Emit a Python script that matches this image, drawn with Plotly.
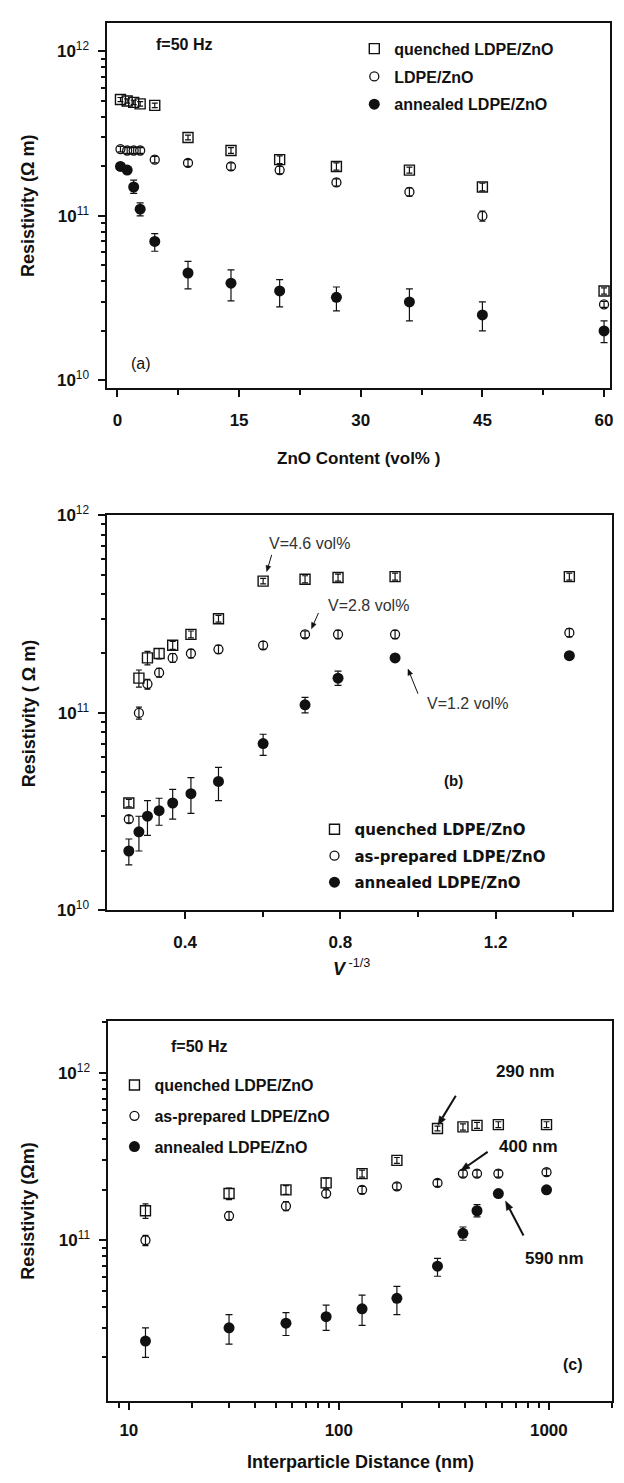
import math
import plotly.graph_objects as go

W, H = 624, 1483

# ---------------- data ----------------
# (a) resistivity versus ZnO content (vol%)
content_a = [0.37, 1.2, 2.0, 2.8, 4.6, 8.7, 14, 20, 27, 36, 45, 60]
quenched_a = [5.1e11, 5.0e11, 4.9e11, 4.8e11, 4.7e11, 3.0e11, 2.5e11, 2.2e11, 2.0e11, 1.9e11, 1.5e11, 3.5e10]
quenched_a_err = [0.15e11, 0.15e11, 0.15e11, 0.15e11, 0.15e11, 0.1e11, 0.1e11, 0.12e11, 0.1e11, 0.08e11, 0.08e11, 0.15e10]
prepared_a = [2.55e11, 2.5e11, 2.5e11, 2.5e11, 2.2e11, 2.1e11, 2.0e11, 1.9e11, 1.6e11, 1.4e11, 1.0e11, 2.9e10]
prepared_a_err = [0.1e11, 0.1e11, 0.1e11, 0.1e11, 0.1e11, 0.1e11, 0.1e11, 0.1e11, 0.08e11, 0.08e11, 0.07e11, 0.12e10]
annealed_a = [2.0e11, 1.9e11, 1.5e11, 1.1e11, 7.0e10, 4.5e10, 3.9e10, 3.5e10, 3.2e10, 3.0e10, 2.5e10, 2.0e10]
annealed_a_up = [0.05e11, 0.05e11, 0.15e11, 0.1e11, 0.8e10, 0.8e10, 0.8e10, 0.6e10, 0.5e10, 0.6e10, 0.5e10, 0.3e10]
annealed_a_dn = [0.05e11, 0.05e11, 0.13e11, 0.1e11, 0.9e10, 0.9e10, 0.85e10, 0.7e10, 0.55e10, 0.7e10, 0.5e10, 0.3e10]

# (b) resistivity versus V^-1/3
vinv_b = [0.255, 0.281, 0.303, 0.333, 0.368, 0.415, 0.486, 0.601, 0.709, 0.794, 0.941, 1.39]
quenched_b = [3.5e10, 1.5e11, 1.9e11, 2.0e11, 2.2e11, 2.5e11, 3.0e11, 4.65e11, 4.75e11, 4.85e11, 4.9e11, 4.9e11]
quenched_b_err = [0.15e10, 0.15e11, 0.15e11, 0.12e11, 0.1e11, 0.1e11, 0.12e11, 0.15e11, 0.2e11, 0.2e11, 0.2e11, 0.2e11]
prepared_b = [2.9e10, 1.0e11, 1.4e11, 1.6e11, 1.9e11, 2.0e11, 2.1e11, 2.2e11, 2.5e11, 2.5e11, 2.5e11, 2.55e11]
prepared_b_err = [0.12e10, 0.07e11, 0.08e11, 0.08e11, 0.1e11, 0.1e11, 0.1e11, 0.1e11, 0.1e11, 0.12e11, 0.12e11, 0.12e11]
annealed_b = [2.0e10, 2.5e10, 3.0e10, 3.2e10, 3.5e10, 3.9e10, 4.5e10, 7.0e10, 1.1e11, 1.5e11, 1.9e11, 1.95e11]
annealed_b_up = [0.3e10, 0.5e10, 0.6e10, 0.5e10, 0.6e10, 0.8e10, 0.8e10, 0.8e10, 1.0e10, 1.3e10, 0.3e10, 0.3e10]
annealed_b_dn = [0.3e10, 0.5e10, 0.6e10, 0.5e10, 0.6e10, 0.8e10, 0.9e10, 0.9e10, 1.0e10, 1.2e10, 0.3e10, 0.3e10]

# (c) resistivity versus interparticle distance (nm)
dist_c = [12, 30, 56, 87, 129, 189, 295, 390, 455, 575, 975]
quenched_c = [1.5e11, 1.9e11, 2.0e11, 2.2e11, 2.5e11, 3.0e11, 4.65e11, 4.75e11, 4.85e11, 4.9e11, 4.9e11]
quenched_c_err = [0.15e11, 0.15e11, 0.12e11, 0.15e11, 0.12e11, 0.12e11, 0.15e11, 0.2e11, 0.2e11, 0.2e11, 0.2e11]
prepared_c = [1.0e11, 1.4e11, 1.6e11, 1.9e11, 2.0e11, 2.1e11, 2.2e11, 2.5e11, 2.5e11, 2.5e11, 2.55e11]
prepared_c_err = [0.07e11, 0.08e11, 0.1e11, 0.1e11, 0.1e11, 0.1e11, 0.1e11, 0.12e11, 0.12e11, 0.12e11, 0.12e11]
annealed_c = [2.5e10, 3.0e10, 3.2e10, 3.5e10, 3.9e10, 4.5e10, 7.0e10, 1.1e11, 1.5e11, 1.9e11, 2.0e11]
annealed_c_up = [0.5e10, 0.6e10, 0.5e10, 0.6e10, 0.8e10, 0.8e10, 0.8e10, 1.0e10, 1.3e10, 0.3e10, 0.3e10]
annealed_c_dn = [0.5e10, 0.6e10, 0.5e10, 0.6e10, 0.8e10, 0.9e10, 0.9e10, 1.0e10, 1.2e10, 0.3e10, 0.3e10]

# tick labels
decade_vals = [1e10, 1e11, 1e12]
decade_text = ["<b>10</b><sup>10</sup>", "<b>10</b><sup>11</sup>", "<b>10</b><sup>12</sup>"]

# ---------------- helpers ----------------
INK = "#111111"
FONT = "Liberation Sans, Arial, sans-serif"
NARROW = "Liberation Sans Narrow, Arial Narrow, Liberation Sans, sans-serif"


def fx(p):
    return p / W


def fy(p):
    return 1 - p / H


def err(up, dn=None, width=3):
    d = dict(type="data", array=up, color=INK, thickness=1.2, width=width, visible=True)
    if dn is not None:
        d.update(symmetric=False, arrayminus=dn)
    return d


def series(x, y, e, kind, name, xa, ya, legend, dn=None):
    if kind == "q":
        marker = dict(symbol="square-open", size=10, color=INK, line=dict(width=1.4, color=INK))
    elif kind == "p":
        marker = dict(symbol="circle-open", size=9, color=INK, line=dict(width=1.3, color=INK))
    else:
        marker = dict(symbol="circle", size=11, color=INK, line=dict(width=0))
    return go.Scatter(
        x=x, y=y, mode="markers", name=name, marker=marker,
        error_y=err(e, dn, width=3 if kind != "a" else 3.5),
        xaxis=xa, yaxis=ya, legend=legend, legendgroup=legend + kind,
    )


fig = go.Figure()

# (a)
fig.add_trace(series(content_a, quenched_a, quenched_a_err, "q", "quenched LDPE/ZnO", "x", "y", "legend"))
fig.add_trace(series(content_a, prepared_a, prepared_a_err, "p", "LDPE/ZnO", "x", "y", "legend"))
fig.add_trace(series(content_a, annealed_a, annealed_a_up, "a", "annealed LDPE/ZnO", "x", "y", "legend", annealed_a_dn))
# (b)
fig.add_trace(series(vinv_b, quenched_b, quenched_b_err, "q", "quenched LDPE/ZnO", "x2", "y2", "legend2"))
fig.add_trace(series(vinv_b, prepared_b, prepared_b_err, "p", "as-prepared LDPE/ZnO", "x2", "y2", "legend2"))
fig.add_trace(series(vinv_b, annealed_b, annealed_b_up, "a", "annealed LDPE/ZnO", "x2", "y2", "legend2", annealed_b_dn))
# (c)
fig.add_trace(series(dist_c, quenched_c, quenched_c_err, "q", "quenched LDPE/ZnO", "x3", "y3", "legend3"))
fig.add_trace(series(dist_c, prepared_c, prepared_c_err, "p", "as-prepared LDPE/ZnO", "x3", "y3", "legend3"))
fig.add_trace(series(dist_c, annealed_c, annealed_c_up, "a", "annealed LDPE/ZnO", "x3", "y3", "legend3", annealed_c_dn))

axis_common = dict(
    showline=True, mirror=True, linecolor=INK, linewidth=2, showgrid=False, zeroline=False,
    ticks="outside", tickcolor=INK, tickwidth=2, ticklen=7,
    tickfont=dict(family=FONT, size=17, color=INK),
)

minor_dec = [m * 10 ** e for e in (10, 11) for m in range(2, 10)]

fig.update_layout(
    width=W, height=H, margin=dict(l=0, r=0, t=0, b=0),
    paper_bgcolor="white", plot_bgcolor="white",
    xaxis=dict(axis_common, domain=[fx(108), fx(613)], anchor="y", range=[-1.23, 60.74],
               tickvals=[0, 15, 30, 45, 60], ticktext=["<b>0</b>", "<b>15</b>", "<b>30</b>", "<b>45</b>", "<b>60</b>"],
               ticklabelstandoff=8,
               minor=dict(tickvals=[7.5, 22.5, 37.5, 52.5], ticks="outside", ticklen=5, tickwidth=2, tickcolor=INK)),
    yaxis=dict(axis_common, domain=[fy(382), fy(11)], anchor="x", type="log", range=[9.952, 12.174],
               tickvals=decade_vals, ticktext=decade_text, ticklabelstandoff=6,
               minor=dict(tickvals=minor_dec, ticks="outside", ticklen=4, tickwidth=1.5, tickcolor=INK)),
    xaxis2=dict(axis_common, domain=[fx(108), fx(615)], anchor="y2", range=[0.2, 1.5],
                tickvals=[0.4, 0.8, 1.2], ticktext=["<b>0.4</b>", "<b>0.8</b>", "<b>1.2</b>"],
                ticklabelstandoff=8,
                minor=dict(tickvals=[0.6, 1.0, 1.4], ticks="outside", ticklen=5, tickwidth=2, tickcolor=INK)),
    yaxis2=dict(axis_common, domain=[fy(912), fy(511)], anchor="x2", type="log", range=[10, 12],
                tickvals=decade_vals, ticktext=decade_text, ticklabelstandoff=6,
                minor=dict(tickvals=minor_dec, ticks="outside", ticklen=4, tickwidth=1.5, tickcolor=INK)),
    xaxis3=dict(axis_common, domain=[fx(109), fx(615)], anchor="y3", type="log", range=[0.903, 3.301],
                tickvals=[10, 100, 1000], ticktext=["<b>10</b>", "<b>100</b>", "<b>1000</b>"],
                ticklabelstandoff=6,
                minor=dict(tickvals=[9] + [m * 10 for m in range(2, 10)] + [m * 100 for m in range(2, 10)] + [2000],
                           ticks="outside", ticklen=5, tickwidth=2, tickcolor=INK)),
    yaxis3=dict(axis_common, domain=[fy(1410), fy(1024)], anchor="x3", type="log", range=[10.04, 12.31],
                tickvals=[1e11, 1e12], ticktext=decade_text[1:], ticklabelstandoff=6,
                minor=dict(tickvals=minor_dec + [2e12], ticks="outside", ticklen=4, tickwidth=1.5, tickcolor=INK)),
    legend=dict(x=fx(356), y=fy(20), xanchor="left", yanchor="top", bgcolor="rgba(0,0,0,0)",
                font=dict(family=NARROW, size=16, color=INK, weight="bold"), tracegroupgap=4,
                itemwidth=30),
    legend2=dict(x=fx(316), y=fy(813), xanchor="left", yanchor="top", bgcolor="rgba(0,0,0,0)",
                 font=dict(family="DejaVu Sans, sans-serif", size=15, color=INK, weight="bold"), tracegroupgap=4,
                 itemwidth=30),
    legend3=dict(x=fx(115), y=fy(1072), xanchor="left", yanchor="top", bgcolor="rgba(0,0,0,0)",
                 font=dict(family=NARROW, size=16, color=INK, weight="bold"), tracegroupgap=7,
                 itemwidth=30),
)

ann = []
shapes = []


def text(px, py, s, size=16, family=FONT, color=INK, angle=0):
    ann.append(dict(x=fx(px), y=fy(py), xref="paper", yref="paper", text=s, showarrow=False,
                    xanchor="center", yanchor="middle", textangle=angle,
                    font=dict(family=family, size=size, color=color)))


def arrow(hx, hy, tx, ty, w=1.0, head=6.0, half=2.5):
    """Callout arrow from a tail point to a head point, given in page pixels."""
    dx, dy = hx - tx, hy - ty
    n = math.hypot(dx, dy)
    ux, uy = dx / n, dy / n
    bx, by = hx - head * ux, hy - head * uy
    shapes.append(dict(type="line", xref="paper", yref="paper",
                       x0=fx(tx), y0=fy(ty), x1=fx(bx), y1=fy(by),
                       line=dict(color=INK, width=w)))
    p1 = (bx - half * uy, by + half * ux)
    p2 = (bx + half * uy, by - half * ux)
    path = "M {} {} L {} {} L {} {} Z".format(fx(hx), fy(hy), fx(p1[0]), fy(p1[1]), fx(p2[0]), fy(p2[1]))
    shapes.append(dict(type="path", xref="paper", yref="paper", path=path,
                       fillcolor=INK, line=dict(color=INK, width=0.5)))


# axis titles
text(28, 197, "<b>Resistivity (Ω m)</b>", size=18, angle=-90)
text(30, 712, "<b>Resistivity ( Ω m)</b>", size=18, angle=-90)
text(28, 1217, "<b>Resistivity (Ωm)</b>", size=18, angle=-90)
text(360, 453, "<b>ZnO Content (vol% )</b>", size=17)
text(353, 970, "<b><i>V</i></b><sup> -1/3</sup>", size=18)
text(362, 1472, "<b>Interparticle Distance (nm)</b>", size=18, family=NARROW)

# panel notes
text(185, 33, "<b>f=50 Hz</b>", size=16, family=NARROW)
text(142, 357, "(a)", size=16, family=NARROW)
text(456, 780, "<b>(b)</b>", size=15)
text(200, 1050, "<b>f=50 Hz</b>", size=16, family=NARROW)
text(576, 1373, "<b>(c)</b>", size=16, family=NARROW)

# (b) volume fraction callouts
text(311, 540, "V=4.6 vol%", size=16, color="#333333")
arrow(268, 568, 273, 551)
text(370, 602, "V=2.8 vol%", size=16, color="#333333")
arrow(313, 626, 320, 610)
text(470, 702, "V=1.2 vol%", size=16, color="#333333")
arrow(410, 667, 420, 692)

# (c) distance callouts
text(528, 1075, "<b>290 nm</b>", size=17, family=NARROW)
arrow(440, 1130, 458, 1100, w=2, head=9, half=3.5)
text(531, 1152, "<b>400 nm</b>", size=17, family=NARROW)
arrow(463, 1176, 490, 1157, w=2, head=9, half=3.5)
text(557, 1265, "<b>590 nm</b>", size=17, family=NARROW)
arrow(508, 1207, 526, 1242, w=2, head=9, half=3.5)

fig.update_layout(annotations=ann, shapes=shapes)
fig.write_html("out.html")
